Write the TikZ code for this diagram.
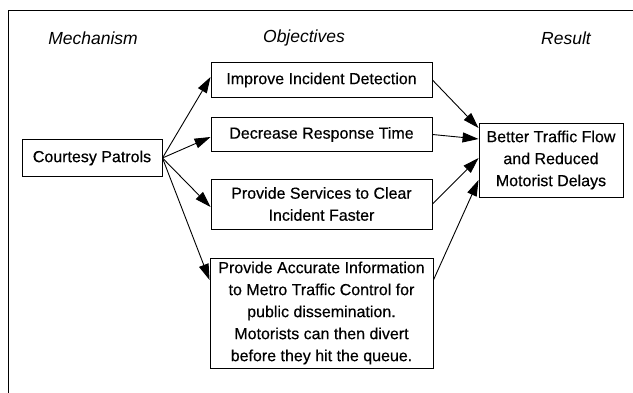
\documentclass[tikz,border=0pt]{standalone}
\usepackage{fontspec}
\setmainfont{Liberation Sans}
\newfontfamily\boxfont[FakeBold=0.4]{Liberation Sans}
\usetikzlibrary{arrows.meta}
\begin{document}
\begin{tikzpicture}[x=1pt,y=-1pt,
  box/.style={draw,line width=0.9pt,inner sep=0pt,align=center,font=\boxfont\fontsize{16}{22}\selectfont},
  head/.style={font=\fontsize{17.5}{20}\selectfont\itshape},
  arr/.style={line width=0.9pt,-{Triangle[length=16pt,width=10pt]}}]
\useasboundingbox (0,0) rectangle (633,393);
\fill[white] (0,0) rectangle (633,393);
\draw[line width=0.9pt] (633,10) -- (8,10) -- (8,393);
\node[head] (hmech) at (93,38) {Mechanism};
\node[head] (hobj) at (304,38) {Objectives};
\node[head] (hres) at (566,38) {Result};
\node[box,minimum width=140pt,minimum height=37pt] (courtesy) at (92,158) {Courtesy Patrols};
\node[box,minimum width=221pt,minimum height=35pt] (improve) at (321.5,80) {Improve Incident Detection};
\node[box,minimum width=221pt,minimum height=34pt] (decrease) at (321.5,134.5) {Decrease Response Time};
\node[box,minimum width=221pt,minimum height=50pt] (services) at (321.5,204) {Provide Services to Clear\\Incident Faster};
\node[box,minimum width=223pt,minimum height=110pt] (info) at (321.5,313) {Provide Accurate Information\\to Metro Traffic Control for\\public dissemination.\\Motorists can then divert\\before they hit the queue.};
\node[box,minimum width=144pt,minimum height=74pt] (result) at (551,160) {Better Traffic Flow\\and Reduced\\Motorist Delays};
\draw[arr] (courtesy.east) -- ([yshift=3pt]improve.west);
\draw[arr] (courtesy.east) -- ([yshift=-2.5pt]decrease.west);
\draw[arr] (courtesy.east) -- ([yshift=-3pt]services.west);
\draw[arr] (courtesy.east) -- ([yshift=33pt]info.west);
\draw[arr] (improve.east) -- ([yshift=32pt]result.west);
\draw[arr] (decrease.east) -- ([yshift=21pt]result.west);
\draw[arr] (services.east) -- ([yshift=2pt]result.west);
\draw[arr] ([yshift=33pt]info.east) -- ([yshift=-20pt]result.west);
\end{tikzpicture}
\end{document}
